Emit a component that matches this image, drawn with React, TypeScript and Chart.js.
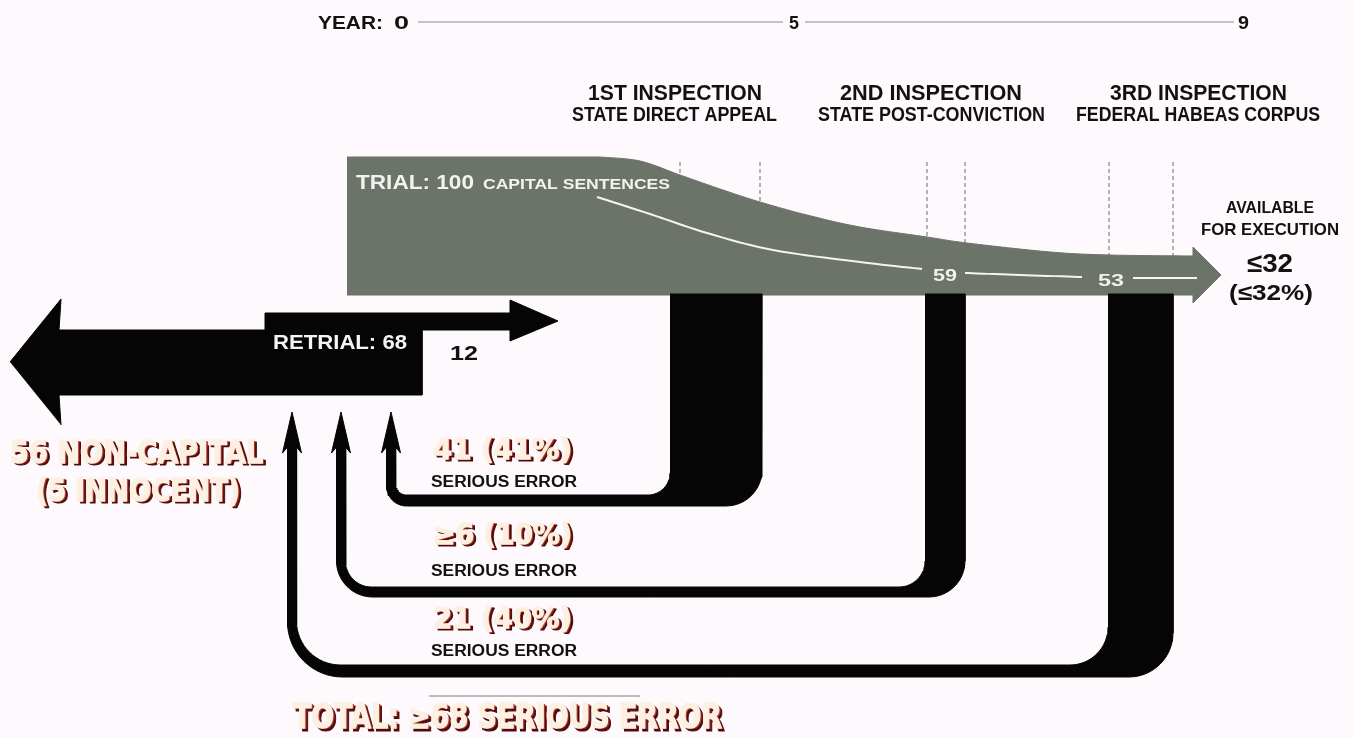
import React, { useEffect, useRef } from "react";
import { Chart, registerables } from "chart.js";

Chart.register(...registerables);

// ---------------- data ----------------
const yearTicks = ["0", "5", "9"];
const inspections = ["1ST INSPECTION", "2ND INSPECTION", "3RD INSPECTION"];
const courts = ["STATE DIRECT APPEAL", "STATE POST-CONVICTION", "FEDERAL HABEAS CORPUS"];
const errorCounts = ["41", "≥6", "21"];
const errorShares = ["41%", "10%", "40%"];
const survivors = ["59", "53"];
const trialCount = 100;
const retrialCount = 68;
const nonCapitalCount = 56;
const innocentCount = 5;
const backToCapitalCount = 12;
const availableCount = "≤32";
const availableShare = "≤32%";
const totalErrors = "≥68";

// ---------------- layout ----------------
const W = 1354;
const H = 738;
const BG = "#fdf9fd";
const GRAY = "#6c7369";
const INK = "#050505";
const FONT = "'Liberation Sans', Arial, sans-serif";
const FANCY = "'DejaVu Sans', sans-serif";

const grayLeft = 347;
const grayTop = 157;
const grayBottom = 295;
const grayEdge = [
  [600, 157], [640, 161], [680, 175], [723, 190], [760, 202], [807, 215],
  [860, 227], [927, 237], [967, 243], [1050, 252], [1110, 255], [1193, 256],
];
const flowLineParts = [
  [[597, 197], [650, 214], [707, 233], [773, 250], [860, 262], [922, 269]],
  [[965, 273], [1020, 275], [1082, 277]],
  [[1133, 278], [1197, 278]],
];
const dashX = [680, 760, 927, 965, 1109, 1173];

const drops = [
  { xl: 670, xr: 762, bandTop: 495, bandBot: 506, stem: 391, ri: 22, ro: 36, rbo: 20, rbi: 11 },
  { xl: 925, xr: 965, bandTop: 587, bandBot: 597, stem: 341, ri: 26, ro: 36, rbo: 36, rbi: 26 },
  { xl: 1108, xr: 1173, bandTop: 665, bandBot: 677, stem: 292, ri: 38, ro: 44, rbo: 55, rbi: 44 },
];
const stemHalf = 4.5;
const headTip = 412;
const headBase = 453;
const headHalf = 9.5;

function smooth(pts: number[][], steps = 10) {
  const out: { x: number; y: number }[] = [];
  for (let i = 0; i < pts.length - 1; i++) {
    const p0 = pts[Math.max(i - 1, 0)];
    const p1 = pts[i];
    const p2 = pts[i + 1];
    const p3 = pts[Math.min(i + 2, pts.length - 1)];
    for (let s = 0; s < steps; s++) {
      const t = s / steps;
      const t2 = t * t;
      const t3 = t2 * t;
      const f = (a: number, b: number, c: number, d: number) =>
        0.5 * (2 * b + (-a + c) * t + (2 * a - 5 * b + 4 * c - d) * t2 + (-a + 3 * b - 3 * c + d) * t3);
      out.push({ x: f(p0[0], p1[0], p2[0], p3[0]), y: f(p0[1], p1[1], p2[1], p3[1]) });
    }
  }
  const last = pts[pts.length - 1];
  out.push({ x: last[0], y: last[1] });
  return out;
}

function arc(cx: number, cy: number, r: number, a0: number, a1: number, n = 16) {
  const pts: { x: number; y: number }[] = [];
  for (let i = 0; i <= n; i++) {
    const a = a0 + ((a1 - a0) * i) / n;
    pts.push({ x: cx + r * Math.cos(a), y: cy + r * Math.sin(a) });
  }
  return pts;
}

const topCurve = smooth(grayEdge, 12);
function topAt(x: number) {
  for (let i = 0; i < topCurve.length - 1; i++) {
    const a = topCurve[i];
    const b = topCurve[i + 1];
    if (x >= a.x && x <= b.x) return a.y + ((b.y - a.y) * (x - a.x)) / (b.x - a.x || 1);
  }
  return grayTop;
}

function grayShape() {
  return [
    { x: grayLeft, y: grayTop },
    ...topCurve,
    { x: 1193, y: 247 },
    { x: 1221, y: 275 },
    { x: 1193, y: 303 },
    { x: 1193, y: grayBottom },
    { x: grayLeft, y: grayBottom },
  ];
}

function dropShape(d: any) {
  const sl = d.stem - stemHalf;
  const sr = d.stem + stemHalf;
  const P = Math.PI;
  return [
    { x: d.xl, y: grayBottom - 1 },
    { x: d.xr, y: grayBottom - 1 },
    ...arc(d.xr - d.ro, d.bandBot - d.ro, d.ro, 0, P / 2),
    ...arc(sl + d.rbo, d.bandBot - d.rbo, d.rbo, P / 2, P),
    { x: sl, y: headBase - 6 },
    { x: d.stem - headHalf, y: headBase },
    { x: d.stem, y: headTip },
    { x: d.stem + headHalf, y: headBase },
    { x: sr, y: headBase - 6 },
    ...arc(sr + d.rbi, d.bandTop - d.rbi, d.rbi, P, P / 2),
    ...arc(d.xl - d.ri, d.bandTop - d.ri, d.ri, P / 2, 0),
  ];
}

function retrialShape() {
  return [
    { x: 10, y: 362 }, { x: 61, y: 299 }, { x: 59, y: 330 }, { x: 265, y: 330 },
    { x: 265, y: 313 }, { x: 510, y: 313 }, { x: 510, y: 300 }, { x: 558, y: 321 },
    { x: 510, y: 341 }, { x: 510, y: 330 }, { x: 422, y: 330 }, { x: 422, y: 395 },
    { x: 59, y: 395 }, { x: 61, y: 425 },
  ];
}

const poly = (label: string, data: any[], color: string, order: number) => ({
  label, data, showLine: true, fill: "shape", backgroundColor: color, borderColor: color,
  borderWidth: 1, pointRadius: 0, tension: 0, order,
});
const seg = (label: string, data: any[], color: string, width: number, dash: number[], order: number) => ({
  label, data, showLine: true, fill: false, borderColor: color, backgroundColor: color,
  borderWidth: width, borderDash: dash, pointRadius: 0, tension: 0, order,
});

function drawFit(ctx: CanvasRenderingContext2D, text: string, x0: number, x1: number, yc: number, cap: number, o: any = {}) {
  const size = cap / 0.72;
  ctx.save();
  ctx.font = `${o.weight || "bold"} ${size}px ${o.family || FONT}`;
  ctx.textAlign = "left";
  ctx.textBaseline = "alphabetic";
  ctx.lineJoin = "round";
  const w = ctx.measureText(text).width;
  const sx = (x1 - x0) / w;
  ctx.translate(x0, yc + cap / 2);
  ctx.scale(sx, 1);
  if (o.fancy) {
    ctx.fillStyle = "#4f0c0a";
    ctx.strokeStyle = "#4f0c0a";
    ctx.lineWidth = 1.2;
    ctx.fillText(text, 3 / sx, 2.6);
    ctx.strokeText(text, 3 / sx, 2.6);
    ctx.fillStyle = "#b0352a";
    ctx.fillText(text, 1.7 / sx, 1.4);
    ctx.lineWidth = 1.4;
    ctx.strokeStyle = "#fcf0e3";
    ctx.strokeText(text, 0, 0);
    ctx.fillStyle = "#fcf0e3";
    ctx.fillText(text, 0, 0);
  } else {
    ctx.fillStyle = o.color || "#111";
    ctx.fillText(text, 0, 0);
  }
  ctx.restore();
}

const bgPlugin = {
  id: "bg",
  beforeDraw(chart: any) {
    const ctx = chart.ctx;
    ctx.save();
    ctx.fillStyle = BG;
    ctx.fillRect(0, 0, chart.width, chart.height);
    ctx.restore();
  },
};

const textPlugin = {
  id: "texts",
  afterDatasetsDraw(chart: any) {
    const ctx: CanvasRenderingContext2D = chart.ctx;
    const X = (v: number) => chart.scales.x.getPixelForValue(v);
    const Y = (v: number) => chart.scales.y.getPixelForValue(v);
    const T = (t: string, x0: number, x1: number, yc: number, cap: number, o: any = {}) =>
      drawFit(ctx, t, X(x0), X(x1), Y(yc), cap, o);

    // year axis
    T("YEAR:", 318, 383, 22, 13);
    T(yearTicks[0], 394, 409, 22, 13);
    T(yearTicks[1], 789, 799, 22, 13);
    T(yearTicks[2], 1238, 1249, 22, 13);

    // inspection headings
    const headX = [[588, 762], [840, 1022], [1110, 1287]];
    const courtX = [[572, 777], [818, 1045], [1076, 1320]];
    inspections.forEach((s, i) => T(s, headX[i][0], headX[i][1], 91.5, 16));
    courts.forEach((s, i) => T(s, courtX[i][0], courtX[i][1], 113.5, 14.5));

    // trial
    T(`TRIAL: ${trialCount}`, 356, 474, 181, 15, { color: "#f2f2f0" });
    T("CAPITAL SENTENCES", 483, 670, 183.5, 10.5, { color: "#f2f2f0" });
    T(survivors[0], 933, 957, 275, 12.5, { color: "#f0f0ee" });
    T(survivors[1], 1098, 1124, 279.5, 12.5, { color: "#f0f0ee" });

    // available
    T("AVAILABLE", 1226, 1314, 207, 12);
    T("FOR EXECUTION", 1201, 1339, 228.5, 12);
    T(availableCount, 1247, 1293, 262, 19);
    T(`(${availableShare})`, 1229, 1313, 292, 16);

    // retrial
    T(`RETRIAL: ${retrialCount}`, 273, 407, 342, 14, { color: "#f4f4f4" });
    T(String(backToCapitalCount), 450, 478, 352, 15);
    T(`${nonCapitalCount} NON-CAPITAL`, 10, 263, 451, 23, { fancy: true, family: FANCY });
    T(`(${innocentCount} INNOCENT)`, 36, 240, 489, 23, { fancy: true, family: FANCY });

    // errors
    const errY = [448, 533, 617];
    const serY = [481, 570, 650];
    errorCounts.forEach((c, i) => {
      T(`${c} (${errorShares[i]})`, 433, 572, errY[i], 21, { fancy: true, family: FANCY });
      T("SERIOUS ERROR", 431, 577, serY[i], 12.5);
    });

    // total
    T(`TOTAL: ${totalErrors} SERIOUS ERROR`, 293, 722, 716, 24, { fancy: true, family: FANCY });
  },
};

export default function App() {
  const ref = useRef<HTMLCanvasElement | null>(null);

  useEffect(() => {
    if (!ref.current) return;
    const datasets: any[] = [];
    datasets.push(poly("trial flow", grayShape(), GRAY, 20));
    drops.forEach((d, i) => datasets.push(poly(`error ${errorCounts[i]}`, dropShape(d), INK, 15)));
    datasets.push(poly("retrial", retrialShape(), INK, 15));
    flowLineParts.forEach((p, i) => datasets.push(seg(`flow line ${i}`, smooth(p, 10), "#f4f4f2", 2, [], 5)));
    dashX.forEach((x, i) =>
      datasets.push(seg(`stage ${i}`, [{ x, y: 162 }, { x, y: topAt(x) }], "#6a6a6a", 1, [4, 3], 6))
    );
    datasets.push(seg("year 0-5", [{ x: 418, y: 22 }, { x: 783, y: 22 }], "#8d8d8d", 1.2, [], 6));
    datasets.push(seg("year 5-9", [{ x: 805, y: 22 }, { x: 1234, y: 22 }], "#8d8d8d", 1.2, [], 6));
    datasets.push(seg("total rule", [{ x: 429, y: 696 }, { x: 640, y: 696 }], "#7a7a7a", 1, [], 6));

    const chart = new Chart(ref.current, {
      type: "scatter",
      data: { datasets },
      options: {
        animation: false,
        responsive: false,
        devicePixelRatio: 1,
        events: [],
        layout: { padding: 0 },
        plugins: { legend: { display: false }, tooltip: { enabled: false }, title: { display: false } },
        scales: {
          x: { type: "linear", min: 0, max: W, display: false },
          y: { type: "linear", min: 0, max: H, reverse: true, display: false },
        },
      },
      plugins: [bgPlugin, textPlugin],
    } as any);
    return () => chart.destroy();
  }, []);

  return (
    <div style={{ position: "absolute", left: 0, top: 0, width: W, height: H, background: BG }}>
      <canvas ref={ref} width={W} height={H} style={{ display: "block" }} />
    </div>
  );
}
